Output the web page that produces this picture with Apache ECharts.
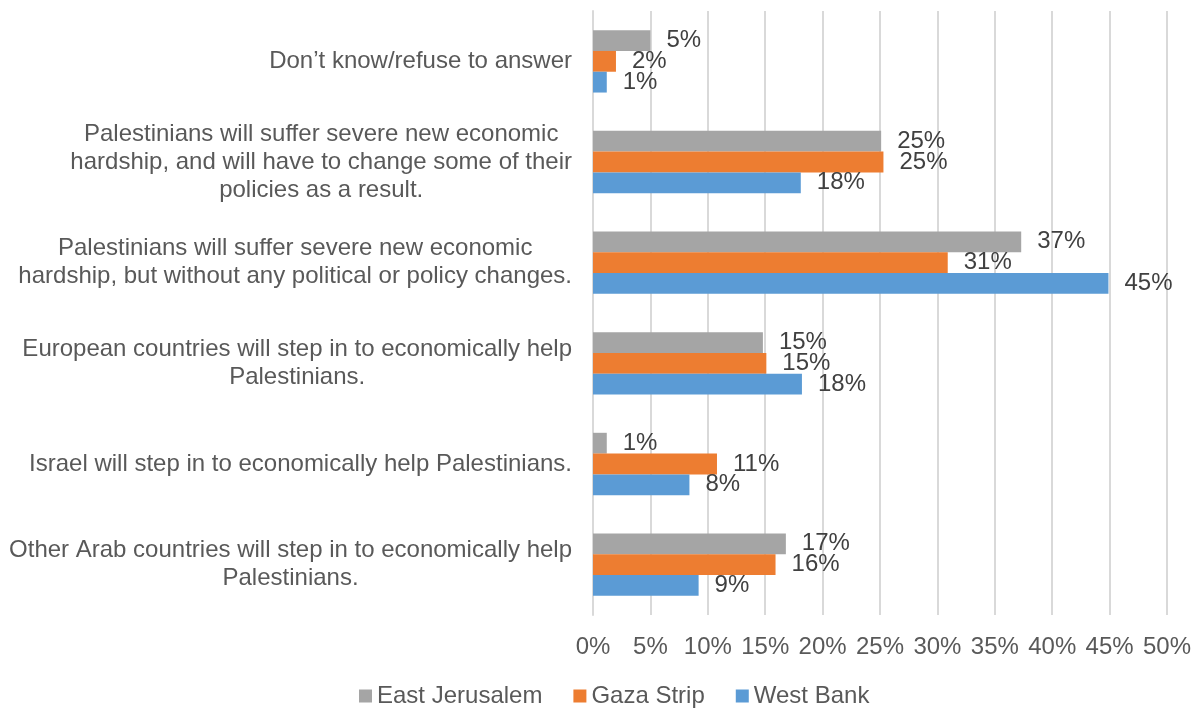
<!DOCTYPE html>
<html>
<head>
<meta charset="utf-8">
<script src="https://cdn.jsdelivr.net/npm/echarts@6/dist/echarts.min.js"></script>
<style>
html,body{margin:0;padding:0;background:#fff;}
#chart{width:1198px;height:709px;}
</style>
</head>
<body>
<div id="chart"></div>
<script>
// Categories, top to bottom
const categories = [
  "Don\u2019t know/refuse to answer",
  "Palestinians will suffer severe new economic\nhardship, and will have to change some of their\npolicies as a result.",
  "Palestinians will suffer severe new economic\nhardship, but without any political or policy changes.",
  "European countries will step in to economically help\nPalestinians.",
  "Israel will step in to economically help Palestinians.",
  "Other Arab countries will step in to economically help\nPalestinians."
];
const seriesNames = ["East Jerusalem", "Gaza Strip", "West Bank"];
const eastJerusalem = [5.0, 25.1, 37.3, 14.8, 1.2, 16.8];
const gazaStrip     = [2.0, 25.3, 30.9, 15.1, 10.8, 15.9];
const westBank      = [1.2, 18.1, 44.9, 18.2, 8.4, 9.2];
const xTicks = [0, 5, 10, 15, 20, 25, 30, 35, 40, 45, 50];
const colors = ["#A5A5A5", "#ED7D31", "#5B9BD5"];

const FONT = "Liberation Sans, Arial, sans-serif";
const FS = 24;
const chart = echarts.init(document.getElementById('chart'));
const valueSets = [eastJerusalem, gazaStrip, westBank];

chart.setOption({
  animation: false,
  textStyle: {fontFamily: FONT},
  grid: {left: 593, right: 31, top: 11, bottom: 94, containLabel: false},
  legend: {
    data: seriesNames,
    top: 684,
    left: 359,
    padding: 0,
    itemWidth: 13, itemHeight: 13, itemGap: 31,
    icon: 'rect',
    textStyle: {fontSize: FS, color: '#595959', fontFamily: FONT}
  },
  xAxis: {
    type: 'value',
    min: xTicks[0], max: xTicks[xTicks.length - 1], interval: 5,
    axisLine: {show: false},
    axisTick: {show: false},
    splitLine: {show: true, lineStyle: {color: '#D9D9D9', width: 2}},
    axisLabel: {formatter: v => v + '%', fontSize: FS, color: '#595959', margin: 20, fontFamily: FONT}
  },
  yAxis: {
    type: 'category',
    inverse: true,
    data: categories,
    axisLine: {show: true, lineStyle: {color: '#D9D9D9', width: 2}},
    axisTick: {show: false},
    axisLabel: {
      margin: 21,
      align: 'right',
      formatter: v => v.split('\n').map(l => '{c|' + l + '}').join('\n'),
      rich: {c: {align: 'center', fontSize: FS, lineHeight: 28, color: '#595959', fontFamily: FONT}}
    }
  },
  series: seriesNames.map((name, i) => ({
    name: name,
    type: 'bar',
    data: valueSets[i],
    barGap: '0%',
    barCategoryGap: '38%',
    itemStyle: {color: colors[i]},
    label: {
      show: true, position: 'right', distance: 16,
      formatter: p => Math.round(p.value) + '%',
      fontSize: FS, color: '#404040', fontFamily: FONT
    }
  }))
});
</script>
</body>
</html>
